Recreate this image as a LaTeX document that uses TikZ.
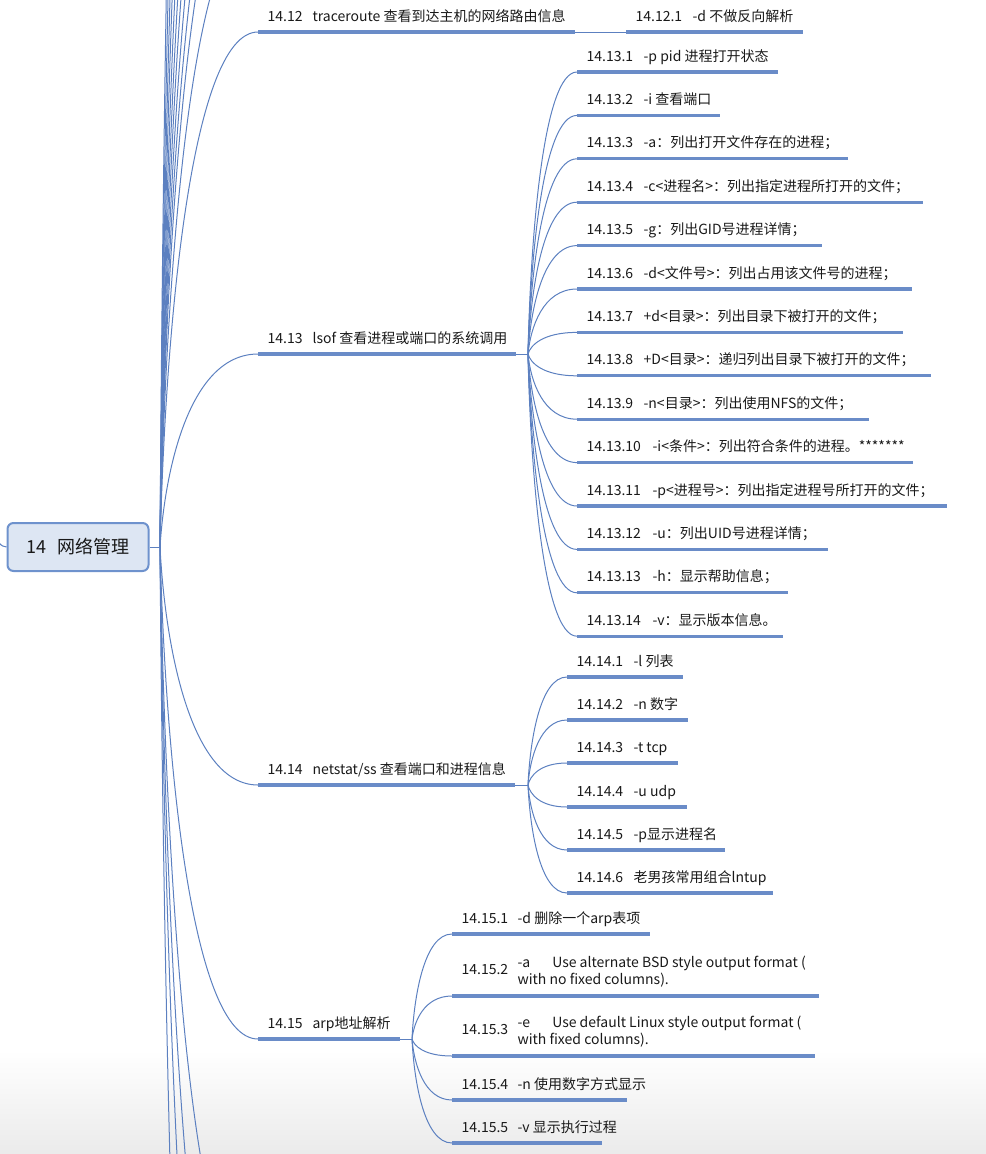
\documentclass[tikz,border=0pt]{standalone}
\usepackage{fontspec}
\setmainfont{Noto Sans CJK SC}
\usetikzlibrary{calc}
\definecolor{cConn}{RGB}{92,128,192}
\definecolor{cUl}{RGB}{106,140,200}
\definecolor{cRootFill}{RGB}{221,230,243}
\definecolor{cRootDraw}{RGB}{110,146,205}
\definecolor{cTxt}{RGB}{25,25,25}
\tikzset{
  mm/.style={to path={let \p1=(\tikztostart), \p2=(\tikztotarget) in
      .. controls ({\x1+0.05*(\x2-\x1)},{\y1+0.4*(\y2-\y1)}) and ({\x1+0.3*(\x2-\x1)},{\y2}) .. (\tikztotarget)}},
  conn/.style={draw=cConn, line width=0.75pt},
  ul/.style={draw=cUl, line width=2.3pt},
  topic/.style={anchor=south west, inner xsep=7pt, inner ysep=5pt, text depth=3pt, text height=8pt,
      font=\fontsize{10.5pt}{12.75pt}\selectfont, text=cTxt},
  topictwo/.style={anchor=south west, inner xsep=7pt, inner ysep=6.75pt,
      font=\fontsize{10.5pt}{12.75pt}\selectfont, text=cTxt},
  rootbox/.style={draw=cRootDraw, fill=cRootFill, line width=1.5pt, rounded corners=4.5pt,
      minimum width=105.75pt, minimum height=36pt, inner sep=0pt,
      font=\fontsize{13.5pt}{16pt}\selectfont, text=cTxt}
}
\newcommand\nb[2]{\makebox[#1][l]{#2}}
\newcommand\tp[6][topic]{\node[#1] (#2) at (#3,#4) {#6};
  \coordinate (#2e) at (#5,#4);
  \draw[ul] (#2.south west) -- (#2e);}
\begin{document}
\begin{tikzpicture}[x=0.75pt,y=-0.75pt]
\useasboundingbox (0,0) rectangle (986,1154);
\clip (0,0) rectangle (986,1154);
\shade[top color=white,bottom color=black!8] (0,1050) rectangle (986,1154);

% root
\node[rootbox] (root) at (78,547) {14\hspace{8pt}网络管理};

% 14.12
\tp{t12}{258}{32}{575}{\nb{33.75pt}{14.12}traceroute 查看到达主机的网络路由信息}
\tp{t121}{626}{32}{803}{\nb{42.75pt}{14.12.1}-d 不做反向解析}

% 14.13
\tp{t13}{258}{354}{516}{\nb{33.75pt}{14.13}lsof 查看进程或端口的系统调用}
\tp{t131}{577}{72}{778}{\nb{42.75pt}{14.13.1}-p pid 进程打开状态}
\tp{t132}{577}{115.4}{720}{\nb{42.75pt}{14.13.2}-i 查看端口}
\tp{t133}{577}{158.8}{848}{\nb{42.75pt}{14.13.3}-a：列出打开文件存在的进程；}
\tp{t134}{577}{202.2}{923}{\nb{42.75pt}{14.13.4}-c<进程名>：列出指定进程所打开的文件；}
\tp{t135}{577}{245.6}{822}{\nb{42.75pt}{14.13.5}-g：列出GID号进程详情；}
\tp{t136}{577}{289}{912}{\nb{42.75pt}{14.13.6}-d<文件号>：列出占用该文件号的进程；}
\tp{t137}{577}{332.4}{903}{\nb{42.75pt}{14.13.7}+d<目录>：列出目录下被打开的文件；}
\tp{t138}{577}{375.8}{931}{\nb{42.75pt}{14.13.8}+D<目录>：递归列出目录下被打开的文件；}
\tp{t139}{577}{419.2}{869}{\nb{42.75pt}{14.13.9}-n<目录>：列出使用NFS的文件；}
\tp{t1310}{577}{462.6}{913}{\nb{49.5pt}{14.13.10}-i<条件>：列出符合条件的进程。*******}
\tp{t1311}{577}{506}{947}{\nb{49.5pt}{14.13.11}-p<进程号>：列出指定进程号所打开的文件；}
\tp{t1312}{577}{549.4}{828}{\nb{49.5pt}{14.13.12}-u：列出UID号进程详情；}
\tp{t1313}{577}{592.8}{788}{\nb{49.5pt}{14.13.13}-h：显示帮助信息；}
\tp{t1314}{577}{636.2}{783}{\nb{49.5pt}{14.13.14}-v：显示版本信息。}

% 14.14
\tp{t14}{258}{785}{515}{\nb{33.75pt}{14.14}netstat/ss 查看端口和进程信息}
\tp{t141}{567}{677}{683}{\nb{42.75pt}{14.14.1}-l 列表}
\tp{t142}{567}{720}{688}{\nb{42.75pt}{14.14.2}-n 数字}
\tp{t143}{567}{763}{678}{\nb{42.75pt}{14.14.3}-t tcp}
\tp{t144}{567}{807}{687}{\nb{42.75pt}{14.14.4}-u udp}
\tp{t145}{567}{850}{725}{\nb{42.75pt}{14.14.5}-p显示进程名}
\tp{t146}{567}{893}{773}{\nb{42.75pt}{14.14.6}老男孩常用组合lntup}

% 14.15
\tp{t15}{258}{1039}{400}{\nb{33.75pt}{14.15}arp地址解析}
\tp{t151}{452}{934}{650}{\nb{42pt}{14.15.1}-d 删除一个arp表项}
\tp[topictwo]{t152}{452}{996}{819}{\nb{42pt}{14.15.2}\parbox[c]{260pt}{\raggedright\baselineskip=12.75pt
  \makebox[26pt][l]{-a}Use alternate BSD style output format (\\with no fixed columns).}}
\tp[topictwo]{t153}{452}{1056}{815}{\nb{42pt}{14.15.3}\parbox[c]{260pt}{\raggedright\baselineskip=12.75pt
  \makebox[26pt][l]{-e}Use default Linux style output format (\\with fixed columns).}}
\tp{t154}{452}{1100}{627}{\nb{42pt}{14.15.4}-n 使用数字方式显示}
\tp{t155}{452}{1143}{602}{\nb{42pt}{14.15.5}-v 显示执行过程}

% fan points
\coordinate (f) at (160,547);
\coordinate (f13) at (528,354);
\coordinate (f14) at (528,785);
\coordinate (f15) at (412,1039);

% root's own parent connector (off canvas)
\coordinate (rp) at (-40,470);
\draw[conn] (rp) .. controls (-12,525) and (-4,547) .. (root.west);

% root to its branches
\draw[conn] (root.east) -- (f);
\foreach \Y [count=\i] in {-1400,-1100,-880,-720,-580,-470,-380,-300,-230,-170,-80}{
  \coordinate (s\i) at (258,\Y);
  \draw[conn] (f) to[mm] (s\i);
}
\foreach \Y [count=\i] in {1300,1480,1700,2150}{
  \coordinate (b\i) at (258,\Y);
  \draw[conn] (f) to[mm] (b\i);
}
\foreach \nm in {t12,t13,t14,t15}{
  \draw[conn] (f) to[mm] (\nm.south west);
}

% 14.12 child
\draw[conn] (t12e) -- (t121.south west);

% 14.13 children
\draw[conn] (t13e) -- (f13);
\foreach \nm in {t131,t132,t133,t134,t135,t136,t137,t138,t139,t1310,t1311,t1312,t1313,t1314}{
  \draw[conn] (f13) to[mm] (\nm.south west);
}
% 14.14 children
\draw[conn] (t14e) -- (f14);
\foreach \nm in {t141,t142,t143,t144,t145,t146}{
  \draw[conn] (f14) to[mm] (\nm.south west);
}
% 14.15 children
\draw[conn] (t15e) -- (f15);
\foreach \nm in {t151,t152,t153,t154,t155}{
  \draw[conn] (f15) to[mm] (\nm.south west);
}
\end{tikzpicture}
\end{document}
